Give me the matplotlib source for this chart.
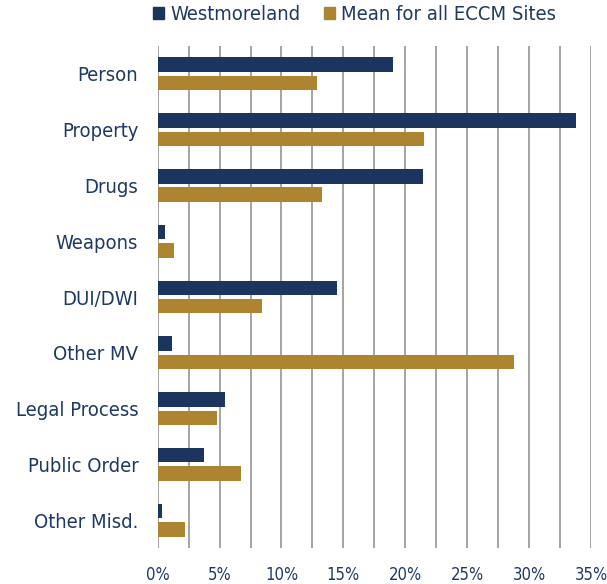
import matplotlib.pyplot as plt
from matplotlib.ticker import MultipleLocator, FuncFormatter
from matplotlib.patches import Patch
import numpy as np

plt.rcParams['font.family'] = ['DejaVu Sans']
plt.rcParams['font.stretch'] = 'condensed'

categories = ["Person", "Property", "Drugs", "Weapons", "DUI/DWI", "Other MV",
              "Legal Process", "Public Order", "Other Misd."]
westmoreland = [19.0, 33.8, 21.4, 0.6, 14.5, 1.15, 5.4, 3.7, 0.35]
ecc_mean = [12.9, 21.5, 13.3, 1.3, 8.4, 28.8, 4.8, 6.7, 2.2]

navy = "#1C355E"
gold = "#AD842F"
text_col = "#1F3864"

fig = plt.figure(figsize=(6.07, 5.84), dpi=100)
ax = fig.add_axes([0.2598, 0.0616, 0.7138, 0.8596])

y = np.arange(len(categories))
h = 0.26
ax.barh(y - 0.165, westmoreland, height=h, color=navy, zorder=3, label="Westmoreland")
ax.barh(y + 0.165, ecc_mean, height=h, color=gold, zorder=3, label="Mean for all ECCM Sites")

ax.set_xlim(0, 35)
ax.set_ylim(len(categories) - 0.5, -0.5)
ax.xaxis.set_major_locator(MultipleLocator(5))
ax.xaxis.set_minor_locator(MultipleLocator(2.5))
ax.xaxis.set_major_formatter(FuncFormatter(lambda v, p: f"{int(v)}%"))
ax.grid(axis="x", which="both", color="#8c8c8c", linewidth=1.1, zorder=0)
ax.set_yticks(y)
ax.set_yticklabels(categories)
for s in ax.spines.values():
    s.set_visible(False)
ax.tick_params(axis="both", which="both", length=0)
ax.tick_params(axis="y", pad=14, labelsize=14.5, labelcolor=text_col)
ax.tick_params(axis="x", pad=13, labelsize=12, labelcolor=text_col)

handles = [Patch(color=navy), Patch(color=gold)]
fig.legend(handles, ["Westmoreland", "Mean for all ECCM Sites"], loc="upper left",
           bbox_to_anchor=(0.222, 1.022), ncol=2, frameon=False, fontsize=14.5,
           handlelength=0.55, handleheight=0.55, handletextpad=0.3, columnspacing=1.2,
           labelcolor=text_col)

fig.savefig("out.png", dpi=100)
